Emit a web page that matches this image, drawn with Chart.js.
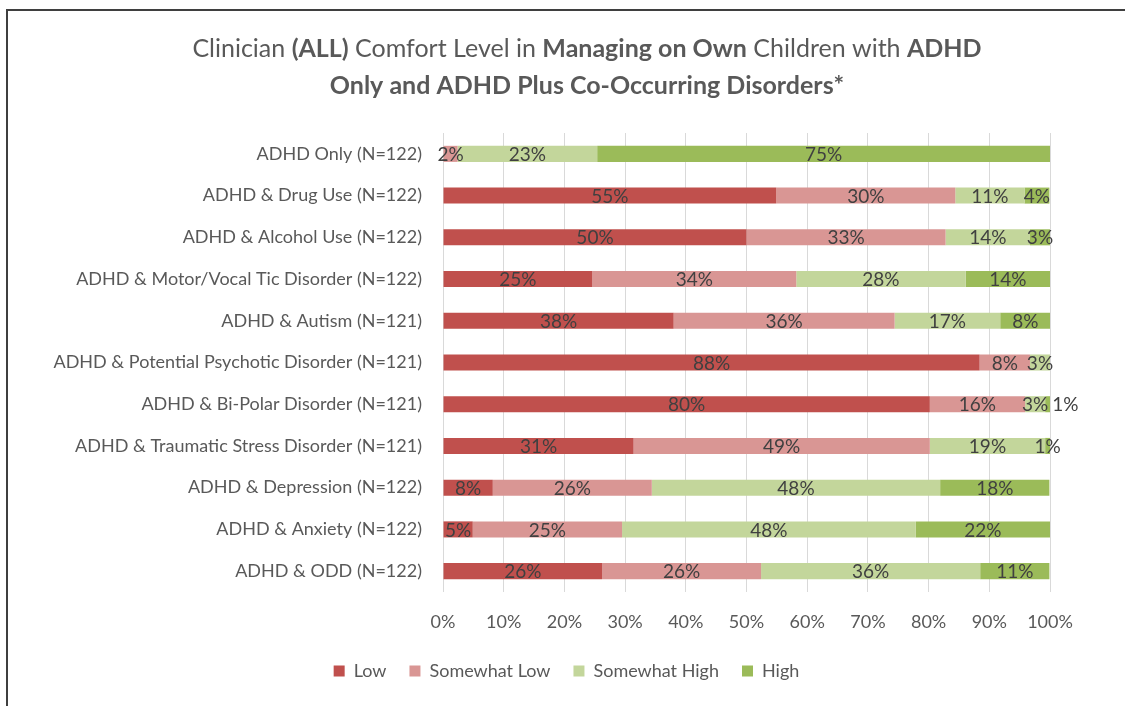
<!DOCTYPE html>
<html><head><meta charset="utf-8">
<script src="https://cdn.jsdelivr.net/npm/chart.js@4.4.0/dist/chart.umd.min.js"></script>
<style>
html,body{margin:0;padding:0;background:#fff;}
#wrap{position:relative;width:1125px;height:706px;overflow:hidden;background:#fff;}
#frame{position:absolute;left:6px;top:9px;width:1300px;height:900px;border-left:2px solid #3f3f3f;border-top:2px solid #3f3f3f;pointer-events:none;}
canvas{position:absolute;left:0;top:0;}
</style></head><body>
<div id="wrap"><canvas id="c" width="1125" height="706"></canvas><div id="frame"></div></div>
<script>
const categories = [
  'ADHD Only (N=122)',
  'ADHD & Drug Use (N=122)',
  'ADHD & Alcohol Use (N=122)',
  'ADHD & Motor/Vocal Tic Disorder (N=122)',
  'ADHD & Autism (N=121)',
  'ADHD & Potential Psychotic Disorder (N=121)',
  'ADHD & Bi-Polar Disorder (N=121)',
  'ADHD & Traumatic Stress Disorder (N=121)',
  'ADHD & Depression (N=122)',
  'ADHD & Anxiety (N=122)',
  'ADHD & ODD (N=122)'
];
const seriesNames = ['Low', 'Somewhat Low', 'Somewhat High', 'High'];
const lowValues          = [0,    54.9, 50.0, 24.6, 38.0, 88.4, 80.2, 31.4,  8.2,  4.9, 26.2];
const somewhatLowValues  = [2.4,  29.5, 32.8, 33.6, 36.4,  8.3, 15.7, 48.8, 26.2, 24.6, 26.2];
const somewhatHighValues = [23.0, 11.4, 13.9, 27.9, 17.4,  3.3,  3.3, 19.0, 47.5, 48.4, 36.1];
const highValues         = [74.6,  4.1,  3.3, 13.9,  8.3,  0,    0.8,  0.8, 18.0, 22.1, 11.4];
const xTickLabels = ['0%','10%','20%','30%','40%','50%','60%','70%','80%','90%','100%'];
const titleLine1 = [['Clinician ', false], ['(ALL)', true], [' Comfort Level in ', false], ['Managing on Own', true], [' Children with ', false], ['ADHD', true]];
const titleLine2 = [['Only and ADHD Plus Co-Occurring Disorders*', true]];

const seriesColors = ['#C0504D', '#D99694', '#C3D69B', '#9BBB59'];
const FONT = 'Lato';

const titlePlugin = {
  id: 'richTitle',
  afterDraw(chart) {
    const ctx = chart.ctx;
    ctx.save();
    ctx.fillStyle = '#595959';
    ctx.textBaseline = 'middle';
    ctx.textAlign = 'left';
    const lines = [titleLine1, titleLine2];
    const ys = [49, 86];
    lines.forEach((segs, li) => {
      let total = 0;
      segs.forEach(s => { ctx.font = (s[1] ? 'bold ' : '') + '25px ' + FONT; total += ctx.measureText(s[0]).width; });
      let x = 587 - total / 2;
      segs.forEach(s => {
        ctx.font = (s[1] ? 'bold ' : '') + '25px ' + FONT;
        ctx.fillText(s[0], x, ys[li]);
        x += ctx.measureText(s[0]).width;
      });
    });
    ctx.restore();
  }
};

const legendShift = {
  id: 'legendShift',
  afterLayout(chart) {
    const lg = chart.legend;
    if (lg) { lg.left += 41.5; lg.right += 41.5; }
  }
};

const labelPlugin = {
  id: 'segLabels',
  afterDatasetsDraw(chart) {
    const ctx = chart.ctx;
    ctx.save();
    ctx.font = '19px ' + FONT;
    ctx.fillStyle = '#404040';
    ctx.textAlign = 'center';
    ctx.textBaseline = 'middle';
    const rightEdge = {};
    chart.data.datasets.forEach((ds, di) => {
      const meta = chart.getDatasetMeta(di);
      meta.data.forEach((bar, i) => {
        const v = ds.data[i];
        if (!v) return;
        const text = Math.round(v) + '%';
        const w = ctx.measureText(text).width;
        let cx = (bar.x + bar.base) / 2;
        const prev = rightEdge[i];
        if (prev !== undefined && cx - w / 2 < prev + 1) cx = prev + 4 + w / 2;
        ctx.fillText(text, cx, bar.y + 1);
        rightEdge[i] = cx + w / 2;
      });
    });
    ctx.restore();
  }
};

const valueSets = [lowValues, somewhatLowValues, somewhatHighValues, highValues];

new Chart(document.getElementById('c'), {
  type: 'bar',
  data: {
    labels: categories,
    datasets: seriesNames.map((name, i) => ({
      label: name,
      data: valueSets[i],
      backgroundColor: seriesColors[i],
      borderWidth: 0,
      barPercentage: 0.385,
      categoryPercentage: 1
    }))
  },
  options: {
    indexAxis: 'y',
    responsive: false,
    devicePixelRatio: 1,
    animation: false,
    layout: { padding: { left: 0, right: 75, top: 133, bottom: 16 } },
    scales: {
      x: {
        stacked: true,
        min: 0, max: 100,
        ticks: {
          stepSize: 10,
          padding: 19,
          color: '#595959',
          font: { family: FONT, size: 18 },
          callback: (v, idx) => xTickLabels[idx]
        },
        grid: { color: '#D9D9D9', lineWidth: 1, drawTicks: false },
        border: { display: false },
        afterFit: (axis) => { axis.height = 47; }
      },
      y: {
        stacked: true,
        ticks: {
          padding: 21,
          color: '#595959',
          font: { family: FONT, size: 18 }
        },
        grid: { display: false, drawTicks: false },
        border: { display: false },
        afterFit: (axis) => { axis.width = 443; }
      }
    },
    plugins: {
      title: { display: false },
      tooltip: { enabled: false },
      legend: {
        position: 'bottom',
        labels: {
          boxWidth: 11,
          boxHeight: 11,
          padding: 23,
          color: '#595959',
          font: { family: FONT, size: 18 }
        }
      }
    }
  },
  plugins: [titlePlugin, labelPlugin, legendShift]
});
</script>
</body></html>
